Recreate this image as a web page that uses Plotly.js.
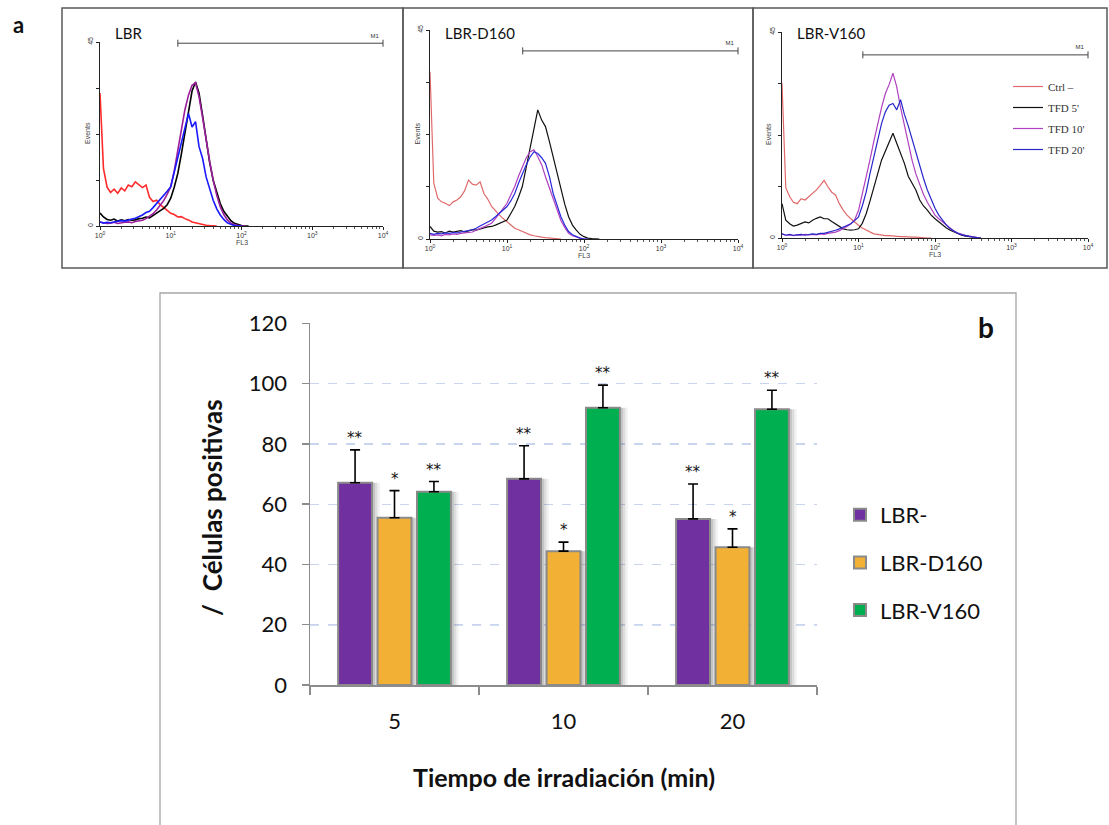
<!DOCTYPE html>
<html><head><meta charset="utf-8">
<script src="https://cdn.plot.ly/plotly-3.0.1.min.js"></script>
<style>html,body{margin:0;padding:0;background:#fff}#chart{width:1109px;height:825px}</style>
</head><body><div id="chart"></div>
<script>
// ---------- Panel a: flow cytometry histograms (FL3 channel, Events) ----------
const FL3 = [1,1.12,1.26,1.41,1.58,1.78,2.00,2.24,2.51,2.82,3.16,3.55,3.98,4.47,5.01,5.62,6.31,7.08,7.94,8.91,
  10,11.2,12.6,14.1,15.8,17.8,20.0,22.4,25.1,28.2,31.6,35.5,39.8,44.7,50.1,56.2,63.1,70.8,79.4,89.1,
  100,112,126,141,158,178,200,224,251,282,316,355,398];
const panelNames = ['LBR','LBR-D160','LBR-V160'];
const histNames = ['Ctrl –',"TFD 5'","TFD 10'","TFD 20'"];

// LBR
const LBR_ctrl  = [32.5,14,9.5,8.2,9.0,8.0,9.3,8.6,10.0,9.6,10.8,10.2,9.4,10.0,7.0,6.0,6.3,5.2,4.6,3.8,3.1,2.8,2.2,2.3,1.8,1.5,1.0,0.8,0.6,0.3,0.2,0.1,0,0];
const LBR_tfd5  = [3.2,2.2,1.6,1.4,1.7,1.2,1.5,1.3,1.6,1.4,1.5,1.8,1.9,2.2,2.0,2.6,3.1,3.6,4.3,5.2,6.8,9.5,12.9,17.5,22.6,28.0,33.0,35.2,32.5,27.0,21.0,15.5,11.2,8.0,5.5,3.6,2.3,1.3,0.65,0.3,0.1,0,0];
const LBR_tfd10 = [1.0,0.8,0.6,0.7,0.9,0.6,0.8,0.9,1.0,0.8,1.1,1.2,1.4,1.8,2.3,3.0,3.9,5.0,6.2,7.8,9.6,13.5,18.5,23.5,28.3,32.0,34.4,35.0,31.6,26.5,21.0,15.8,11.2,7.5,4.7,2.8,1.5,0.7,0.3,0.1,0,0];
const LBR_tfd20 = [1.0,0.7,0.9,0.8,1.0,1.1,1.3,1.2,1.5,1.7,1.9,2.3,2.7,3.3,3.6,4.5,5.5,6.3,7.3,8.5,9.6,13.0,16.9,20.5,23.4,27.5,24.2,25.5,19.4,16.5,12.0,8.8,6.3,4.2,2.7,1.6,0.8,0.4,0.1,0,0];
// LBR-D160
const D160_ctrl  = [36,12,8.8,8.0,7.7,7.2,8.0,8.4,9.1,10.4,12.7,11.8,11.6,12.3,9.8,8.6,7.0,6.0,5.2,4.4,3.7,3.0,2.3,2.0,1.6,1.2,0.9,0.7,0.5,0.4,0.3,0.2,0.1,0,0];
const D160_tfd5  = [2.7,1.7,1.5,1.6,1.3,1.7,1.5,1.6,1.8,1.5,1.7,2.0,1.9,2.2,2.4,2.6,2.7,3.0,3.4,3.7,4.1,5.5,7.0,9.0,11.3,15.5,19.9,24.2,27.8,25.6,24.2,21.0,17.7,14.0,10.6,7.5,4.8,3.0,1.9,1.0,0.5,0.2,0.1,0,0];
const D160_tfd10 = [0.9,0.8,0.9,0.7,1.0,0.9,1.1,1.0,1.2,1.3,1.4,1.5,1.9,2.2,2.6,3.0,3.4,4.4,5.5,6.5,7.7,9.5,11.3,13.5,15.6,17.5,18.8,19.2,17.7,16.0,13.4,11.0,8.5,6.0,4.0,2.5,1.2,0.7,0.4,0.2,0,0];
const D160_tfd20 = [1.2,1.0,1.2,1.1,1.3,1.2,1.4,1.3,1.5,1.6,1.8,2.0,2.3,2.8,3.2,3.7,4.1,4.8,5.5,6.2,7.0,8.2,9.8,12.0,14.1,16.0,17.7,18.8,18.4,17.5,16.3,13.5,9.8,7.0,4.8,3.0,1.6,0.9,0.5,0.2,0,0];
// LBR-V160
const V160_ctrl  = [33.8,11,9.0,7.8,7.5,8.6,8.3,9.0,9.7,10.5,11.5,12.6,11.2,10.0,9.4,7.5,6.1,5.0,4.2,3.4,2.8,2.2,1.7,1.2,0.9,0.8,0.6,0.5,0.5,0.4,0.4,0.3,0.3,0.2,0.2,0.2,0.1,0.1,0,0];
const V160_tfd5  = [7.5,3.9,3.1,2.6,2.8,3.2,3.5,3.3,3.9,4.3,4.6,4.2,4.2,3.6,3.1,2.5,2.0,1.8,1.7,1.8,2.0,3.2,5.3,8.0,11.2,14.0,17.0,19.0,20.7,22.9,20.7,18.5,16.3,13.5,12.0,10.5,8.3,7.0,6.1,5.0,4.2,3.5,2.8,2.2,1.7,1.3,0.9,0.6,0.4,0.3,0.2,0.1,0];
const V160_tfd10 = [0.9,0.6,0.7,0.5,0.7,0.6,0.8,0.7,0.8,0.7,0.9,0.8,1.0,1.1,1.3,1.6,2.0,2.5,3.1,4.0,6.0,9.5,13.0,17.0,21.0,25.0,28.5,31.5,33.5,36.0,33.0,28.5,24.5,20.5,17.0,14.0,11.5,9.5,7.8,6.3,5.0,4.2,3.5,2.7,2.0,1.5,1.1,0.8,0.6,0.4,0.2,0.1,0];
const V160_tfd20 = [0.9,0.6,0.8,0.6,0.7,0.8,0.6,0.8,0.9,0.8,1.0,1.0,1.2,1.4,1.7,2.0,2.4,2.8,3.1,3.8,4.6,7.0,10.0,14.0,17.5,21.5,25.0,27.5,29.0,29.4,28.0,30.2,27.0,24.5,21.5,19.0,16.0,13.0,10.5,8.3,6.5,5.0,3.8,2.8,2.0,1.4,1.0,0.7,0.5,0.3,0.2,0.1,0];

const gateLabel = 'M1';
const gateStart = [12.6, 16, 11.4];
const gateEnd = [10000, 10000, 10000];
const gateLevel = [44.7, 40.5, 40];
const fl3TickVals = [1,10,100,1000,10000];
const fl3TickText = ['10<sup>0</sup>','10<sup>1</sup>','10<sup>2</sup>','10<sup>3</sup>','10<sup>4</sup>'];
const eventTickVals = [0,11.25,22.5,33.75,45];
const eventTickText = ['0','','','','45'];

// ---------- Panel b: bar chart ----------
const times = ['5','10','20'];
const seriesNames = ['LBR-','LBR-D160','LBR-V160'];
const LBR_minus = [67.1, 68.4, 55.1];
const LBR_D160  = [55.5, 44.4, 45.7];
const LBR_V160  = [64.1, 92.0, 91.5];
const err_minus = [10.9, 11.0, 11.6];
const err_D160  = [9.0, 3.0, 6.1];
const err_V160  = [3.4, 7.5, 6.3];
const sig_minus = ['**','**','**'];
const sig_D160  = ['*','*','*'];
const sig_V160  = ['**','**','**'];

// ---------- figure ----------
const W = 1109, H = 825;
const px = v => v / W;
const py = v => 1 - v / H;

const panelSets = [
  [LBR_ctrl, LBR_tfd5, LBR_tfd10, LBR_tfd20],
  [D160_ctrl, D160_tfd5, D160_tfd10, D160_tfd20],
  [V160_ctrl, V160_tfd5, V160_tfd10, V160_tfd20]
];
const lineColors = [
  ['#ff2a2a','#000000','#9b1e9b','#1a1aff'],
  ['#e06a6a','#111111','#b040c0','#2828d8'],
  ['#e06a6a','#111111','#b040c0','#2828c8']
];
const lineWidths = [1.6, 1.2, 1.2];

const traces = [];
panelSets.forEach((set, p) => {
  const xa = p === 0 ? 'x' : 'x' + (p + 1);
  const ya = p === 0 ? 'y' : 'y' + (p + 1);
  set.forEach((ys, k) => {
    traces.push({
      type: 'scatter', mode: 'lines', x: FL3, y: ys, xaxis: xa, yaxis: ya,
      name: histNames[k],
      line: {color: lineColors[p][k], width: lineWidths[p]},
      showlegend: p === 2, legend: 'legend2', legendgroup: 'h' + k, hoverinfo: 'skip'
    });
  });
  traces.push({
    type: 'scatter', mode: 'lines+markers+text', xaxis: xa, yaxis: ya,
    x: [gateStart[p], gateEnd[p]], y: [gateLevel[p], gateLevel[p]],
    text: ['', gateLabel], textposition: 'top left',
    textfont: {size: 6, color: '#333', family: 'Liberation Sans'},
    line: {color: '#444', width: 1}, marker: {symbol: 'line-ns-open', size: 5, color: '#444', line: {width: 1, color: '#444'}},
    showlegend: false, hoverinfo: 'skip', cliponaxis: false
  });
});

// bars: explicit offsets so that a soft drop shadow can sit behind each bar
const bargap = 0.3, bargroupgap = 0.14;
const slot = (1 - bargap) / 3;
const barW = slot * (1 - bargroupgap);
const offsets = [0, 1, 2].map(k => -(1 - bargap) / 2 + k * slot + (slot - barW) / 2);

const barColors = ['#7030a0', '#f2b134', '#00b050'];
const barVals = [LBR_minus, LBR_D160, LBR_V160];
const barErr = [err_minus, err_D160, err_V160];
const barSig = [sig_minus, sig_D160, sig_V160];
const shadowLayers = [{dx: 0.047, a: 0.07}, {dx: 0.032, a: 0.12}, {dx: 0.018, a: 0.16}];
barVals.forEach((vals, k) => {
  shadowLayers.forEach(s => {
    traces.push({
      type: 'bar', x: times, y: vals, xaxis: 'x4', yaxis: 'y4',
      offset: offsets[k] + s.dx, width: barW,
      marker: {color: 'rgba(70,70,70,' + s.a + ')', line: {width: 0}},
      showlegend: false, hoverinfo: 'skip'
    });
  });
});
barVals.forEach((vals, k) => {
  traces.push({
    type: 'bar', x: times, y: vals, name: seriesNames[k], xaxis: 'x4', yaxis: 'y4',
    offset: offsets[k], width: barW,
    marker: {color: barColors[k], line: {color: '#8a8a8a', width: 2}},
    error_y: {type: 'data', array: barErr[k], symmetric: false, arrayminus: [0,0,0], color: '#000', thickness: 1.6, width: 5},
    legend: 'legend', legendgroup: 'g' + k, showlegend: true, hoverinfo: 'skip'
  });
});

// domains
const hist = [
  {x0: 100, x1: 383, y0: 42, y1: 226, box: [62, 8, 403, 268]},
  {x0: 430, x1: 738, y0: 30, y1: 239, box: [403, 8, 753, 268]},
  {x0: 782, x1: 1088, y0: 32, y1: 238, box: [753, 8, 1107, 268]}
];
const barArea = {x0: 310, x1: 817, y0: 323.3, y1: 685};

const layout = {
  width: W, height: H, margin: {l: 0, r: 0, t: 0, b: 0},
  paper_bgcolor: '#fff', plot_bgcolor: 'rgba(0,0,0,0)',
  font: {family: 'Lato, "Open Sans", sans-serif', color: '#222'},
  barmode: 'overlay',
  shapes: [], annotations: [],
  legend: {
    x: px(840), y: py(494), xanchor: 'left', yanchor: 'top',
    font: {size: 22, family: 'Lato, sans-serif', color: '#111'},
    traceorder: 'grouped', tracegroupgap: 16, bgcolor: 'rgba(0,0,0,0)', itemwidth: 30
  },
  legend2: {
    x: px(1008), y: py(72), xanchor: 'left', yanchor: 'top',
    font: {size: 11, family: '"Liberation Serif", serif', color: '#333'},
    traceorder: 'grouped', bgcolor: 'rgba(0,0,0,0)', itemwidth: 30, tracegroupgap: 2
  }
};

hist.forEach((h, p) => {
  const sfx = p === 0 ? '' : String(p + 1);
  layout['xaxis' + sfx] = {
    domain: [px(h.x0), px(h.x1)], anchor: 'y' + sfx, type: 'log', range: [0, 4],
    showline: true, linecolor: '#222', linewidth: 1, showgrid: false, zeroline: false,
    ticks: 'outside', ticklen: 3, tickcolor: '#222', tickvals: fl3TickVals, ticktext: fl3TickText,
    tickfont: {size: 7, family: 'Liberation Sans', color: '#333'},
    minor: {ticks: 'outside', ticklen: 2, tickcolor: '#555', dtick: 'D1'}
  };
  layout['yaxis' + sfx] = {
    domain: [py(h.y1), py(h.y0)], anchor: 'x' + sfx, range: [0, 45],
    showline: true, linecolor: '#222', linewidth: 1, showgrid: false, zeroline: false,
    ticks: 'outside', ticklen: 3, tickcolor: '#222', tickvals: eventTickVals, ticktext: eventTickText,
    tickangle: -90, tickfont: {size: 7, family: 'Liberation Sans', color: '#333'}
  };
  layout.shapes.push({type: 'rect', xref: 'paper', yref: 'paper',
    x0: px(h.box[0]), x1: px(h.box[2]), y0: py(h.box[3]), y1: py(h.box[1]),
    line: {color: '#5a5a5a', width: 1.5}, layer: 'below'});
  layout.annotations.push({xref: 'paper', yref: 'paper', x: px(h.x0 + 13), y: py(33),
    xanchor: 'left', yanchor: 'middle', text: panelNames[p], showarrow: false,
    font: {size: 15, family: 'Lato, sans-serif', color: '#111'}});
  layout.annotations.push({xref: 'paper', yref: 'paper', x: px(h.x0 - 13), y: py((h.y0 + h.y1) / 2 - 1),
    xanchor: 'center', yanchor: 'middle', text: 'Events', textangle: -90, showarrow: false,
    font: {size: 7, family: 'Liberation Sans', color: '#444'}});
  layout.annotations.push({xref: 'paper', yref: 'paper', x: px(h.x0 + (h.x1 - h.x0) * 0.5), y: py(h.y1 + 16),
    xanchor: 'center', yanchor: 'middle', text: 'FL3', showarrow: false,
    font: {size: 7, family: 'Liberation Sans', color: '#444'}});
});

layout.xaxis4 = {
  domain: [px(barArea.x0), px(barArea.x1)], anchor: 'y4', type: 'category',
  categoryorder: 'array', categoryarray: times, range: [-0.5, times.length - 0.5],
  showline: true, linecolor: '#8c8c8c', linewidth: 1.5, showgrid: false,
  ticks: 'outside', tickson: 'boundaries', ticklen: 8, tickcolor: '#8c8c8c', tickwidth: 1.5,
  tickangle: 0,
  tickfont: {size: 22, family: 'Lato, sans-serif', color: '#111'}, ticklabelstandoff: 16
};
layout.yaxis4 = {
  domain: [py(barArea.y1), py(barArea.y0)], anchor: 'x4', range: [0, 120], dtick: 20,
  showline: true, linecolor: '#8c8c8c', linewidth: 1.5, zeroline: false,
  showgrid: true, gridcolor: '#c9d4ee', griddash: 'dash', gridwidth: 1.3,
  ticks: 'outside', ticklen: 7, tickcolor: '#8c8c8c', tickwidth: 1.5,
  tickfont: {size: 22, family: 'Lato, sans-serif', color: '#111'}, ticklabelstandoff: 10
};

// panel b frame
layout.shapes.push({type: 'rect', xref: 'paper', yref: 'paper', x0: px(160), x1: px(1016), y0: -0.02, y1: py(293),
  line: {color: '#a6a6a6', width: 1.3}, layer: 'below'});
// the 20 gridline is drawn darker in the original
layout.shapes.push({type: 'line', xref: 'x4 domain', yref: 'y4', x0: 0, x1: 1, y0: layout.yaxis4.dtick, y1: layout.yaxis4.dtick,
  line: {color: '#a9b9df', width: 1.5, dash: 'dash'}, layer: 'below'});

// significance marks above error bars (x given as category index + bar centre offset)
barVals.forEach((vals, k) => {
  vals.forEach((v, i) => {
    layout.annotations.push({xref: 'x4', yref: 'y4', x: i + offsets[k] + barW / 2, y: v + barErr[k][i],
      yshift: 1, xanchor: 'center', yanchor: 'bottom',
      text: barSig[k][i], showarrow: false,
      font: {size: 15, family: '"DejaVu Sans", sans-serif', color: '#111'}});
  });
});

layout.annotations.push({xref: 'paper', yref: 'paper', x: px(564), y: py(777), xanchor: 'center', yanchor: 'middle',
  text: '<b>Tiempo de irradiación (min)</b>', showarrow: false, font: {size: 25, family: 'Lato, sans-serif', color: '#111'}});
layout.annotations.push({xref: 'paper', yref: 'paper', x: px(212), y: py(508), xanchor: 'center', yanchor: 'middle',
  text: '<b>/  Células positivas</b>', textangle: -90, showarrow: false, font: {size: 26, family: 'Lato, sans-serif', color: '#111'}});
layout.annotations.push({xref: 'paper', yref: 'paper', x: px(986), y: py(327), xanchor: 'center', yanchor: 'middle',
  text: '<b>b</b>', showarrow: false, font: {size: 28, family: 'Lato, sans-serif', color: '#111'}});
layout.annotations.push({xref: 'paper', yref: 'paper', x: px(18), y: py(25), xanchor: 'center', yanchor: 'middle',
  text: '<b>a</b>', showarrow: false, font: {size: 22, family: 'Lato, sans-serif', color: '#111'}});

Plotly.newPlot('chart', traces, layout, {staticPlot: true, displayModeBar: false});
</script>
</body></html>
